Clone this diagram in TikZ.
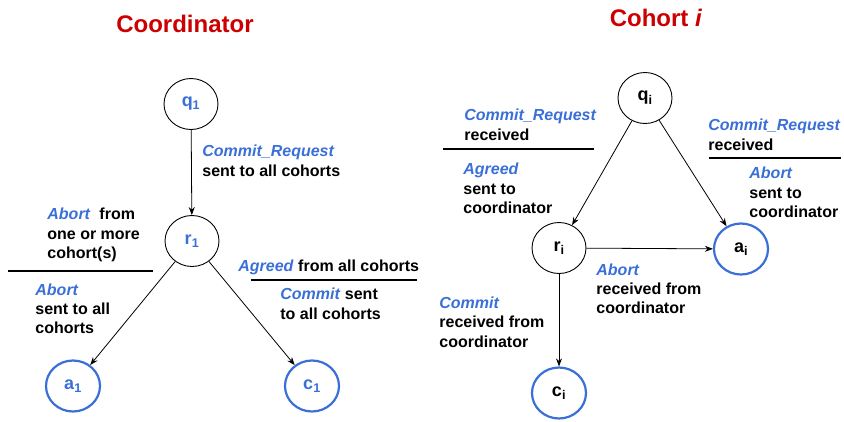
\documentclass[tikz,border=0pt]{standalone}
\usepackage{fontspec}
\setmainfont{Liberation Sans}
\usepackage{tikz}
\usetikzlibrary{shapes.geometric,arrows.meta,positioning}

\definecolor{msgblue}{RGB}{58,111,216}
\definecolor{titlered}{RGB}{204,0,0}

\newcommand{\msg}[1]{\textcolor{msgblue}{\textit{#1}}}

\begin{document}
\begin{tikzpicture}[x=1pt, y=-1pt, >={Stealth[length=8pt,width=6pt]},
    every node/.style={font=\bfseries\fontsize{16}{19.5}\selectfont},
    state/.style={draw, ellipse, line width=0.9pt, minimum width=54pt, minimum height=51pt, inner sep=0pt,
      font=\bfseries\fontsize{18}{20}\selectfont},
    final/.style={state, draw=msgblue, line width=2.2pt},
    note/.style={anchor=north west, align=left, inner sep=0pt},
    title/.style={text=titlered, font=\bfseries\fontsize{24}{28}\selectfont},
    every path/.style={line width=0.8pt}]
  \useasboundingbox (0,0) rectangle (844,421);

  % coordinator
  \node[title] (tc) at (185,24) {Coordinator};
  \node[state, text=msgblue] (q1) at (191,104) {q\textsubscript{1}};
  \node[state, text=msgblue] (r1) at (192,241) {r\textsubscript{1}};
  \node[final, text=msgblue] (a1) at (73,386) {a\textsubscript{1}};
  \node[final, text=msgblue] (c1) at (312,386) {c\textsubscript{1}};

  \draw[->] (q1) -- (r1);
  \draw[->] (r1) -- (a1);
  \draw[->] (r1) -- (c1);

  \node[note] (l1) at (202,145) {\msg{Commit\_Request}\\sent to all cohorts};
  \node[note] (l2) at (47,208) {\msg{Abort}\ \ from\\one or more\\cohort(s)};
  \node[note] (l3) at (35,283) {\msg{Abort}\\sent to all\\cohorts};
  \node[note] (l4) at (238,260) {\msg{Agreed} from all cohorts};
  \node[note] (l5) at (280,288) {\msg{Commit} sent\\to all cohorts};
  \draw[line width=1.4pt] (8,271) -- (153,271);
  \draw[line width=1.4pt] (251,280) -- (417,280);

  % cohort i
  \node[title] (ti) at (656,18) {Cohort \textit{i}};
  \node[state] (qi) at (645,98) {q\textsubscript{i}};
  \node[state] (ri) at (559,248) {r\textsubscript{i}};
  \node[final] (ai) at (741,249) {a\textsubscript{i}};
  \node[final] (ci) at (559,393) {c\textsubscript{i}};

  \draw[->] (qi) -- (ri);
  \draw[->] (qi) -- (ai);
  \draw[->] (ri) -- (ai);
  \draw[->] (ri) -- (ci);

  \node[note] (m1) at (464,109) {\msg{Commit\_Request}\\received};
  \node[note] (m2) at (463,163) {\msg{Agreed}\\sent to\\coordinator};
  \node[note] (m3) at (708,119) {\msg{Commit\_Request}\\received};
  \node[note] (m4) at (749,167) {\msg{Abort}\\sent to\\coordinator};
  \node[note] (m5) at (596,263) {\msg{Abort}\\received from\\coordinator};
  \node[note] (m6) at (439,296) {\msg{Commit}\\received from\\coordinator};
  \draw[line width=1.4pt] (443,149) -- (594,149);
  \draw[line width=1.4pt] (709,158) -- (841,158);
\end{tikzpicture}
\end{document}
